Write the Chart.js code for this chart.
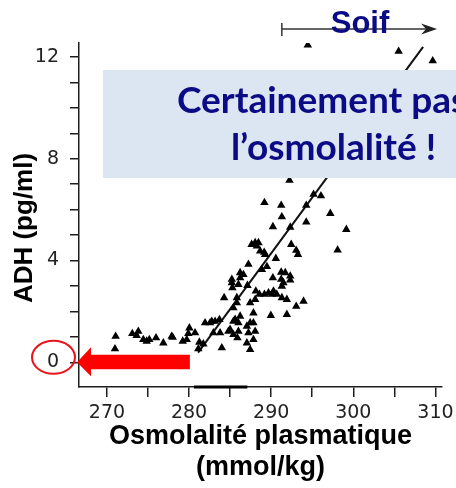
<!DOCTYPE html>
<html><head><meta charset="utf-8">
<script src="https://cdn.jsdelivr.net/npm/chart.js@4.4.0/dist/chart.umd.min.js"></script>
<style>html,body{margin:0;padding:0;background:#fff;overflow:hidden}#wrap{width:456px;height:488px;position:relative}canvas{display:block}</style>
</head><body><div id="wrap"><canvas id="c" width="456" height="488"></canvas></div>
<script>
// Plasma osmolality (mmol/kg) and ADH (pg/ml) pairs
const osmolality = [271.06,270.98,273.09,273.82,273.62,274.43,275.16,275.98,276.87,277.89,279.23,280.04,279.91,280.73,281.13,274.84,279.72,
  281.74,281.26,281.95,282.77,283.70,282.96,283.78,283.99,285.00,285.40,286.01,286.01,287.23,287.04,287.44,287.44,287.84,285.82,285.40,287.44,
  284.27,285.82,285.21,285.28,286.22,286.62,287.11,287.23,288.13,288.57,289.18,289.67,290.28,291.30,291.91,293.94,293.05,291.91,289.96,288.05,
  288.87,289.48,290.57,290.21,291.22,291.71,291.22,292.32,292.32,291.30,287.62,288.05,288.26,288.66,289.15,289.18,290.21,291.22,291.30,292.23,
  292.32,292.44,293.26,293.05,294.27,294.27,295.16,296.06,297.20,298.09,299.15,287.84,288.05,287.04,285.40,285.89,284.79,287.84,282.56,283.17,
  278.01,294.46,305.52,309.67,286.22,285.61,290.09,291.49,288.45,289.27,286.22,286.01,285.21,290.68];
const adh = [1.02,0.53,1.13,1.22,1.05,0.89,0.89,0.96,0.76,1.02,0.83,1.35,1.13,1.16,0.53,0.83,0.89,
  0.72,0.79,1.55,1.61,1.68,1.16,1.16,0.57,1.29,1.61,1.55,1.22,1.16,0.76,0.50,1.55,1.94,2.34,2.14,2.34,
  2.54,2.54,3.26,2.93,3.32,3.45,3.02,3.85,2.80,2.67,2.67,2.73,2.80,2.54,2.47,2.40,2.20,1.88,1.84,2.47,
  3.65,3.76,4.08,3.32,3.54,3.52,3.26,3.39,3.23,2.99,4.63,4.70,4.57,4.37,4.32,6.28,5.33,6.17,5.72,7.15,
  5.31,4.63,4.24,4.40,6.17,5.51,6.60,6.54,5.85,4.41,5.22,1.55,1.22,1.42,1.09,0.96,1.22,0.89,1.55,1.61,
  0.98,12.47,12.22,11.85,1.81,1.69,2.67,3.13,4.70,4.24,3.52,3.06,3.13,2.67];
// Regression line end points
const fitOsmolality = [281.1, 308.5];
const fitAdh = [0.38, 12.4];
// Axis ticks
const xTickValues = [270,275,280,285,290,295,300,305,310];
const xTickLabels = ['270','','280','','290','','300','','310'];
const yTickValues = [0,1,2,3,4,5,6,7,8,9,10,11,12];
const yTickLabels = ['0','','','','4','','','','8','','','','12'];
// Texts
const xTitle = ['Osmolalité plasmatique', '(mmol/kg)'];
const yTitle = 'ADH (pg/ml)';
const boxLines = ['Certainement pas', 'l’osmolalité !'];
const thirstLabel = 'Soif';
const thirstStart = 291.3;   // osmolality where the thirst arrow starts
const thirstEnd = 310.2;
const redArrowEnd = 280.1;

const NAVY = '#0b0b86';
const AXIS = '#1e1e1e';

const overlay = {
  id: 'overlay',
  afterDraw(chart) {
    const ctx = chart.ctx, xs = chart.scales.x, ys = chart.scales.y;
    ctx.save();
    // short thick segment on x axis (as in the reference scan)
    ctx.strokeStyle = '#000'; ctx.lineWidth = 3;
    ctx.beginPath(); ctx.moveTo(xs.getPixelForValue(280.6), 387); ctx.lineTo(xs.getPixelForValue(287.1), 387); ctx.stroke();

    // light blue box
    ctx.fillStyle = '#dce6f2';
    ctx.fillRect(103, 70, 360, 108);
    ctx.fillStyle = NAVY;
    ctx.font = 'bold 37px Lato';
    ctx.textBaseline = 'alphabetic';
    ctx.textAlign = 'left';
    ctx.fillText(boxLines[0], 177, 113);
    ctx.textAlign = 'center';
    ctx.fillText(boxLines[1], 333.5, 160);

    // thirst arrow
    const x0 = xs.getPixelForValue(thirstStart), x1 = xs.getPixelForValue(thirstEnd);
    ctx.strokeStyle = '#333'; ctx.lineWidth = 1.5;
    ctx.beginPath(); ctx.moveTo(x0, 29); ctx.lineTo(x1 - 4, 29); ctx.stroke();
    ctx.beginPath(); ctx.moveTo(x0, 23); ctx.lineTo(x0, 36); ctx.stroke();
    ctx.fillStyle = '#222';
    ctx.beginPath(); ctx.moveTo(x1, 29); ctx.lineTo(x1 - 16, 23.5); ctx.lineTo(x1 - 11, 29); ctx.lineTo(x1 - 16, 34.5); ctx.closePath(); ctx.fill();
    ctx.fillStyle = NAVY;
    ctx.font = 'bold 31px "Liberation Sans"';
    ctx.textAlign = 'center';
    ctx.fillText(thirstLabel, 360, 33);

    // red arrow pointing at zero
    const y0 = ys.getPixelForValue(0);
    const tip = 77, headBase = 91, end = xs.getPixelForValue(redArrowEnd);
    ctx.fillStyle = '#ff0000';
    ctx.beginPath();
    ctx.moveTo(tip, y0);
    ctx.lineTo(headBase, y0 - 15);
    ctx.lineTo(headBase, y0 - 7.5);
    ctx.lineTo(end, y0 - 7.5);
    ctx.lineTo(end, y0 + 7);
    ctx.lineTo(headBase, y0 + 7);
    ctx.lineTo(headBase, y0 + 14);
    ctx.closePath(); ctx.fill();

    // red ellipse around the 0 label
    ctx.strokeStyle = '#e8141c'; ctx.lineWidth = 2;
    ctx.beginPath(); ctx.ellipse(53.5, y0 - 5, 21.5, 16.5, 0, 0, Math.PI * 2); ctx.stroke();

    // y axis title
    ctx.translate(25, 228);
    ctx.rotate(-Math.PI / 2);
    ctx.fillStyle = '#000';
    ctx.font = 'bold 26px "Liberation Sans"';
    ctx.textAlign = 'center'; ctx.textBaseline = 'middle';
    ctx.fillText(yTitle, 0, 0);
    ctx.restore();
  }
};

function build() {
  new Chart(document.getElementById('c'), {
    type: 'scatter',
    data: {
      datasets: [
        {
          label: 'ADH',
          data: osmolality.map((x, i) => ({x, y: adh[i]})),
          pointStyle: 'triangle',
          pointRadius: 4.9,
          backgroundColor: '#000',
          borderColor: '#000',
          borderWidth: 0
        },
        {
          type: 'line',
          label: 'fit',
          data: fitOsmolality.map((x, i) => ({x, y: fitAdh[i]})),
          borderColor: '#111',
          borderWidth: 2,
          pointRadius: 0,
          fill: false
        }
      ]
    },
    options: {
      responsive: false,
      animation: false,
      devicePixelRatio: 1,
      layout: {padding: {left: 0, right: 14, top: 43, bottom: 0}},
      plugins: {legend: {display: false}, tooltip: {enabled: false}},
      scales: {
        x: {
          type: 'linear', min: 266.6, max: 310.8,
          afterBuildTicks: s => { s.ticks = xTickValues.map(v => ({value: v})); },
          afterFit: s => { s.height = 101; s.paddingLeft = 0; s.paddingRight = 0; },
          ticks: {
            callback: (v, i) => xTickLabels[xTickValues.indexOf(v)] ?? '',
            font: {family: '"DejaVu Sans"', size: 19}, color: '#222', padding: 5,
            autoSkip: false, maxRotation: 0
          },
          grid: {drawOnChartArea: false, tickLength: 10, color: AXIS, lineWidth: 1.5},
          border: {display: true, color: AXIS, width: 1.5},
          title: {
            display: true, text: xTitle, color: '#000',
            font: {family: '"Liberation Sans"', size: 27, weight: 'bold', lineHeight: 1.15},
            padding: {top: 0, bottom: 4.5}
          }
        },
        y: {
          type: 'linear', min: -0.97, max: 12.55,
          afterBuildTicks: s => { s.ticks = yTickValues.map(v => ({value: v})); },
          afterFit: s => { s.width = 79; s.paddingTop = 0; s.paddingBottom = 0; },
          ticks: {
            callback: (v) => yTickLabels[yTickValues.indexOf(v)] ?? '',
            font: {family: '"DejaVu Sans"', size: 19}, color: '#222', padding: 11
          },
          grid: {drawOnChartArea: false, tickLength: 9, color: AXIS, lineWidth: 1.5},
          border: {display: true, color: AXIS, width: 1.5}
        }
      }
    },
    plugins: [overlay]
  });
}
const fontsReady = (document.fonts && document.fonts.load)
  ? Promise.all([document.fonts.load('bold 37px Lato'), document.fonts.load('bold 26px "Liberation Sans"'), document.fonts.load('19px "DejaVu Sans"')]).catch(() => {})
  : Promise.resolve();
fontsReady.then(build, build);
</script>
</body></html>
